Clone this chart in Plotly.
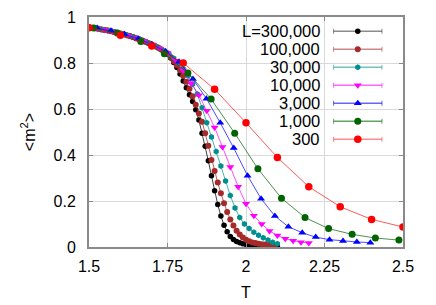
import plotly.graph_objects as go

# ---------------- data ----------------
labels = ["L=300,000", "100,000", "30,000", "10,000", "3,000", "1,000", "300"]

T_300000 = [1.50, 1.51, 1.52, 1.53, 1.54, 1.55, 1.56, 1.57, 1.58, 1.59, 1.60, 1.61, 1.62, 1.63, 1.64,
            1.65, 1.66, 1.67, 1.68, 1.69, 1.70, 1.71, 1.72, 1.73, 1.74, 1.75, 1.76, 1.77, 1.78, 1.79,
            1.80, 1.81, 1.82, 1.83, 1.84, 1.85, 1.86, 1.87, 1.88, 1.89, 1.90, 1.91, 1.92, 1.93, 1.94,
            1.95, 1.96, 1.97, 1.98, 1.99, 2.00, 2.01, 2.02, 2.03, 2.04, 2.05, 2.06, 2.07, 2.08, 2.09, 2.10]
m_300000 = [.955, .953, .951, .949, .946, .944, .941, .938, .935, .932, .928, .925, .921, .917, .913,
            .908, .903, .898, .892, .886, .880, .874, .867, .859, .849, .838, .822, .802, .780, .752,
            .722, .692, .662, .633, .597, .552, .495, .438, .375, .310, .245, .185, .135, .095, .066,
            .046, .033, .024, .018, .014, .011, .009, .008, .007, .006, .005, .005, .004, .004, .004, .003]

T_100000 = [1.50, 1.51, 1.52, 1.53, 1.54, 1.55, 1.56, 1.57, 1.58, 1.59, 1.60, 1.61, 1.62, 1.63, 1.64,
            1.65, 1.66, 1.67, 1.68, 1.69, 1.70, 1.71, 1.72, 1.73, 1.74, 1.75, 1.76, 1.77, 1.78, 1.79,
            1.80, 1.81, 1.82, 1.83, 1.84, 1.85, 1.86, 1.87, 1.88, 1.89, 1.90, 1.91, 1.92, 1.93, 1.94,
            1.95, 1.96, 1.97, 1.98, 1.99, 2.00, 2.01, 2.02, 2.03, 2.04, 2.05, 2.06, 2.07, 2.08, 2.09]
m_100000 = [.955, .953, .951, .949, .946, .944, .941, .938, .935, .932, .928, .925, .921, .917, .913,
            .908, .903, .898, .892, .886, .880, .874, .867, .859, .851, .842, .826, .808, .790, .768,
            .745, .718, .688, .655, .618, .580, .545, .495, .440, .378, .330, .280, .234, .190, .152,
            .120, .093, .071, .054, .041, .032, .025, .020, .017, .014, .012, .011, .010, .009, .008]

T_30000 = [1.500, 1.515, 1.530, 1.545, 1.560, 1.575, 1.590, 1.605, 1.620, 1.635, 1.650, 1.665, 1.680,
           1.695, 1.710, 1.725, 1.740, 1.755, 1.770, 1.785, 1.800, 1.815, 1.830, 1.845, 1.860, 1.875,
           1.890, 1.905, 1.920, 1.935, 1.950, 1.965, 1.980, 1.995, 2.010, 2.025, 2.040, 2.055, 2.070,
           2.085, 2.100]
m_30000 = [.955, .952, .949, .945, .941, .937, .932, .927, .921, .915, .908, .900, .892,
           .883, .874, .863, .851, .838, .821, .800, .775, .745, .708, .665, .605, .540,
           .478, .415, .352, .287, .224, .170, .128, .100, .080, .064, .051, .040, .030,
           .021, .014]

T_10000 = [1.500, 1.525, 1.550, 1.575, 1.600, 1.625, 1.650, 1.675, 1.700, 1.725, 1.750, 1.775, 1.800,
           1.825, 1.850, 1.875, 1.900, 1.925, 1.950, 1.975, 2.000, 2.025, 2.050, 2.075, 2.100, 2.125,
           2.150, 2.175, 2.200]
m_10000 = [.955, .950, .944, .937, .928, .919, .908, .895, .880, .863, .843, .810, .767,
           .712, .660, .592, .520, .435, .348, .262, .188, .136, .100, .070, .050, .036,
           .027, .021, .017]

T_3000 = [1.526, 1.570, 1.613, 1.657, 1.700, 1.744, 1.787, 1.831, 1.874, 1.918, 1.961, 2.005, 2.048,
          2.092, 2.135, 2.179, 2.222, 2.266, 2.309, 2.353, 2.396]
m_3000 = [.952, .940, .925, .905, .881, .850, .805, .730, .645, .540, .430, .310, .210,
          .135, .088, .062, .043, .032, .026, .022, .019]

T_1000 = [1.515, 1.590, 1.665, 1.740, 1.815, 1.889, 1.964, 2.038, 2.113, 2.188, 2.263, 2.338, 2.412, 2.487]
m_1000 = [.952, .930, .893, .840, .757, .643, .495, .340, .212, .128, .080, .055, .039, .030]

T_300 = [1.5, 1.6, 1.7, 1.8, 1.9, 2.0, 2.1, 2.2, 2.3, 2.4, 2.5]
m_300 = [.953, .921, .874, .800, .686, .540, .389, .262, .175, .120, .087]

x_ticks = [1.5, 1.75, 2.0, 2.25, 2.5]
x_ticktext = ["1.5", "1.75", "2", "2.25", "2.5"]
y_ticks = [0, 0.2, 0.4, 0.6, 0.8, 1.0]
y_ticktext = ["0", "0.2", "0.4", "0.6", "0.8", "1"]

series_T = [T_300000, T_100000, T_30000, T_10000, T_3000, T_1000, T_300]
series_m = [m_300000, m_100000, m_30000, m_10000, m_3000, m_1000, m_300]

# ---------------- styles ----------------
colors = ["#000000", "#a52a2a", "#008f8f", "#ff00ff", "#0000ff", "#006400", "#ff0000"]
line_colors = ["rgba(0,0,0,0.75)", "rgba(165,42,42,0.75)", "rgba(0,143,143,0.7)",
               "rgba(255,0,255,0.7)", "rgba(0,0,255,0.7)", "rgba(0,100,0,0.7)", "rgba(255,0,0,0.65)"]
leg_colors = ["rgba(0,0,0,0.45)", "rgba(165,42,42,0.55)", "rgba(0,143,143,0.55)",
              "rgba(255,0,255,0.6)", "rgba(0,0,255,0.6)", "rgba(0,100,0,0.6)", "rgba(255,0,0,0.45)"]
symbols = ["circle", "circle", "hexagon", "triangle-down", "triangle-up", "circle", "circle"]
sizes = [5.5, 6, 6, 7, 7, 7, 7.5]

FONT = "Liberation Sans, Arial, sans-serif"
GRID = "#d9d9d9"
FRAME = "#8a8a8a"

fig = go.Figure()

for T, m, c, lc, s, sz, name in zip(series_T, series_m, colors, line_colors, symbols, sizes, labels):
    fig.add_trace(go.Scatter(
        x=T, y=m, mode="lines+markers", name=name, showlegend=False,
        line=dict(color=lc, width=1),
        marker=dict(color=c, symbol=s, size=sz, line=dict(width=0)),
        xaxis="x", yaxis="y"))

# ---------------- custom legend (gnuplot style: text left, sample right) ----------------
leg_text_x = 0.742
leg_line_x0, leg_line_x1, leg_mark_x = 0.779, 0.933, 0.856
leg_y0, leg_dy = 0.938, 0.0783
cap = 0.011

shapes = [dict(type="rect", xref="paper", yref="paper", x0=0.432, x1=0.966, y0=0.426, y1=0.99,
               fillcolor="white", line=dict(width=0), layer="between")]
annotations = []
leg_y = []
for i, (name, lc) in enumerate(zip(labels, leg_colors)):
    y = leg_y0 - i * leg_dy
    leg_y.append(y)
    annotations.append(dict(text=name, xref="paper", yref="paper", x=leg_text_x, y=y,
                            xanchor="right", yanchor="middle", showarrow=False,
                            font=dict(family=FONT, size=16.5, color="black")))
    shapes.append(dict(type="line", xref="paper", yref="paper", x0=leg_line_x0, x1=leg_line_x1,
                       y0=y, y1=y, line=dict(color=lc, width=1.5), layer="above"))
    for xc in (leg_line_x0, leg_line_x1):
        shapes.append(dict(type="line", xref="paper", yref="paper", x0=xc, x1=xc,
                           y0=y - cap, y1=y + cap, line=dict(color=lc, width=1), layer="above"))

for i in range(len(labels)):
    fig.add_trace(go.Scatter(
        x=[leg_mark_x], y=[leg_y[i]], mode="markers", showlegend=False, hoverinfo="skip",
        marker=dict(color=colors[i], symbol=symbols[i], size=sizes[i], line=dict(width=0)),
        xaxis="x2", yaxis="y2"))

axis_common = dict(showline=True, linecolor=FRAME, linewidth=2, mirror="ticks",
                   ticks="inside", ticklen=4, tickcolor=FRAME, showgrid=True,
                   gridcolor=GRID, gridwidth=1, zeroline=False, automargin=False,
                   tickfont=dict(family=FONT, size=16, color="black"))

# page body adds an 8px offset; figure size/margins compensate for it
fig.update_layout(
    width=428, height=297,
    margin=dict(l=81, r=33, t=9, b=58),
    paper_bgcolor="white", plot_bgcolor="white",
    xaxis=dict(range=[1.5, 2.5], tickvals=x_ticks, ticktext=x_ticktext, ticklabelstandoff=4,
               title=dict(text="T", font=dict(family=FONT, size=16, color="black"), standoff=13),
               **axis_common),
    yaxis=dict(range=[0, 1], tickvals=y_ticks, ticktext=y_ticktext, ticklabelstandoff=8,
               title=dict(text="&lt;m<sup>2</sup>&gt;", font=dict(family=FONT, size=16, color="black"),
                          standoff=14),
               **axis_common),
    xaxis2=dict(overlaying="x", range=[0, 1], visible=False, fixedrange=True, automargin=False),
    yaxis2=dict(overlaying="y", range=[0, 1], visible=False, fixedrange=True, automargin=False),
    shapes=shapes, annotations=annotations, showlegend=False,
)

fig.write_html("out.html")
